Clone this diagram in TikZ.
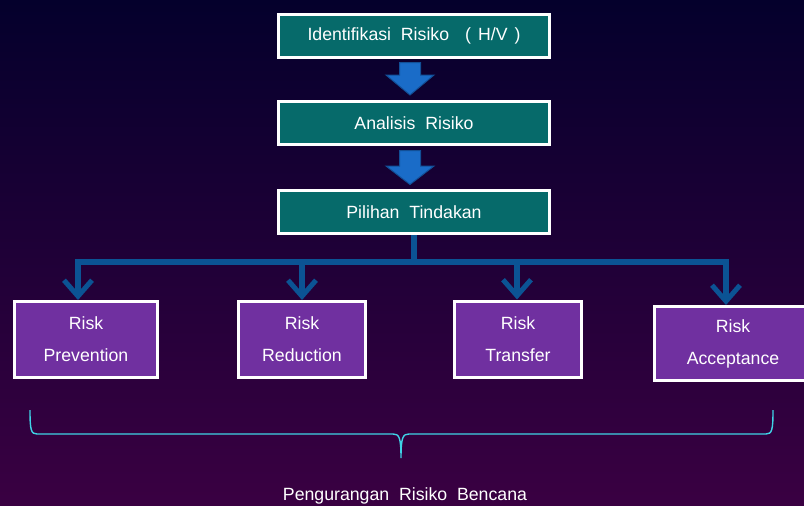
\documentclass[tikz,border=0pt]{standalone}
\usepackage{fontspec}
\setmainfont{Liberation Sans}
\usetikzlibrary{arrows.meta,calc}
\definecolor{bgtop}{HTML}{04002C}
\definecolor{bgbot}{HTML}{3A0042}
\definecolor{tealbox}{HTML}{066A6A}
\definecolor{purplebox}{HTML}{7030A0}
\definecolor{connblue}{HTML}{0B5394}
\definecolor{arrowfill}{HTML}{1A6CC8}
\definecolor{arrowedge}{HTML}{124F96}
\definecolor{bracecyan}{HTML}{3FD3E6}
\begin{document}
\begin{tikzpicture}[x=1pt,y=-1pt,
  tealnode/.style={draw=white, line width=3pt, fill=tealbox, minimum width=271pt,
    minimum height=43pt, text=white, inner sep=0pt,
    font=\fontsize{17.7}{21}\selectfont},
  purplenode/.style={draw=white, line width=3pt, fill=purplebox, minimum height=76pt,
    text=white, inner sep=0pt, align=center,
    font=\fontsize{17.7}{32}\selectfont},
  blockarrow/.style={fill=arrowfill, draw=arrowedge, line width=1pt, line join=miter},
  conn/.style={draw=connblue, line width=5.5pt},
  droparrow/.style={conn, -{Straight Barb[length=16pt,width=28pt,line width=5pt]}},
  brace/.style={draw=bracecyan, line width=1.4pt},
  caption/.style={text=white, font=\fontsize{17.7}{21}\selectfont, inner sep=0pt}
]
\useasboundingbox (0,0) rectangle (804,506);
\clip (0,0) rectangle (804,506);
\shade[top color=bgtop, bottom color=bgbot] (0,0) rectangle (804,506);

% top chain
\node[tealnode] (b1) at (414,35.5) {Identifikasi\ \ Risiko\hspace{16pt}(\hspace{7pt}H/V\hspace{7pt})};
\node[tealnode] (b2) at (414,123) {Analisis\ \ Risiko};
\node[tealnode] (b3) at (414,212) {Pilihan\ \ Tindakan};

% block arrows between the top boxes
\begin{scope}[shift={(b1.south)}]
  \filldraw[blockarrow] (-14.5,4) -- (6.5,4) -- (6.5,16.5) -- (20,16.5) -- (-4,36.5)
    -- (-28,16.5) -- (-14.5,16.5) -- cycle;
\end{scope}
\begin{scope}[shift={(b2.south)}]
  \filldraw[blockarrow] (-14.5,4.5) -- (6.5,4.5) -- (6.5,20) -- (20,20) -- (-4,38.5)
    -- (-28,20) -- (-14.5,20) -- cycle;
\end{scope}

% bottom boxes
\node[purplenode, minimum width=143pt] (pv) at (86,339.5) {Risk\\Prevention};
\node[purplenode, minimum width=127pt] (rd) at (302,339.5) {Risk\\Reduction};
\node[purplenode, minimum width=127pt] (tr) at (518,339) {Risk\\Transfer};
\node[purplenode, minimum width=157pt, minimum height=74pt] (ac) at (733,343.5) {Risk\\Acceptance};

% bus connector
\coordinate (bus) at (414,262);
\draw[conn] (b3.south) -- (bus);
\draw[droparrow] (bus) -| ([xshift=-8pt]pv.north);
\draw[droparrow] (bus) -| (rd.north);
\draw[droparrow] (bus) -| ([xshift=-1pt]tr.north);
\draw[droparrow] (bus) -| ([xshift=-7pt]ac.north);

% brace
\draw[brace] (30,410) .. controls (30,430) and (31,434) .. (37,434) -- (393,434)
  .. controls (399,434) and (401,437) .. (401,458)
  .. controls (401,437) and (403,434) .. (409,434) -- (766,434)
  .. controls (772,434) and (773,430) .. (773,410);

\node[caption] (cap) at (405,496) {Pengurangan\ \ Risiko\ \ Bencana};
\end{tikzpicture}
\end{document}
